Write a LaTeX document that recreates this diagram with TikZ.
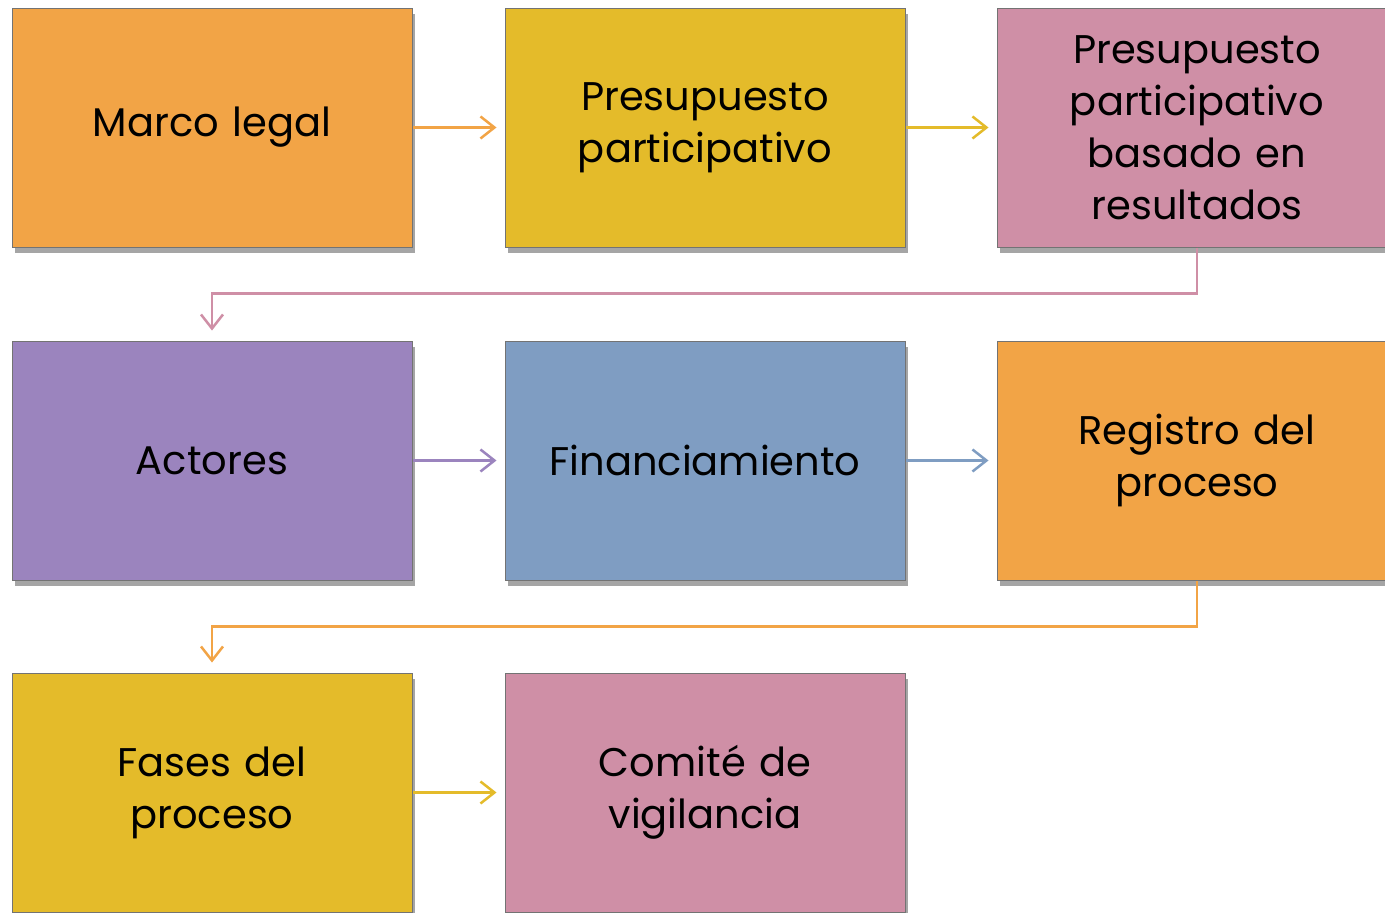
\documentclass[tikz,border=0pt]{standalone}
\usepackage{fontspec}
\setmainfont{Poppins}
\usetikzlibrary{arrows.meta,shadows}
\definecolor{cOrange}{HTML}{F2A446}
\definecolor{cYellow}{HTML}{E4BB2A}
\definecolor{cPink}{HTML}{CF8FA6}
\definecolor{cPurple}{HTML}{9B84BE}
\definecolor{cBlue}{HTML}{7F9DC2}
\tikzset{
  box/.style={rectangle, draw=black!55, line width=1pt, minimum width=400pt, minimum height=239pt,
    align=center, font=\fontsize{40}{52}\selectfont, text width=390pt,
    drop shadow={shadow xshift=3pt, shadow yshift=-6pt, opacity=0.5, fill=black!70}},
  conn/.style={line width=2.5pt, -{Straight Barb[length=14pt,width=22pt,line width=2.5pt]}}
}
\begin{document}
\begin{tikzpicture}[x=1pt,y=-1pt]
\useasboundingbox[fill=white] (0,0) rectangle (1385,913);
\node[box, fill=cOrange] (a) at (212,127.5) {Marco legal};
\node[box, fill=cYellow] (b) at (705,127.5) {Presupuesto\\participativo};
\node[box, fill=cPink] (c) at (1197,127.5) {Presupuesto\\participativo\\basado en\\resultados};
\node[box, fill=cPurple] (d) at (212,460.5) {Actores};
\node[box, fill=cBlue] (e) at (705,460.5) {Financiamiento};
\node[box, fill=cOrange] (f) at (1197,460.5) {Registro del\\proceso};
\node[box, fill=cYellow] (g) at (212,792.5) {Fases del\\proceso};
\node[box, fill=cPink] (h) at (705,792.5) {Comité de\\vigilancia};
\draw[conn, cOrange] (a.east) -- ([xshift=-8pt]b.west);
\draw[conn, cYellow] (b.east) -- ([xshift=-8pt]c.west);
\draw[conn, cPink] (c.south) -- ++(0,46) -| ([yshift=10pt]d.north);
\draw[conn, cPurple] (d.east) -- ([xshift=-8pt]e.west);
\draw[conn, cBlue] (e.east) -- ([xshift=-8pt]f.west);
\draw[conn, cOrange] (f.south) -- ++(0,46) -| ([yshift=10pt]g.north);
\draw[conn, cYellow] (g.east) -- ([xshift=-8pt]h.west);
\end{tikzpicture}
\end{document}
